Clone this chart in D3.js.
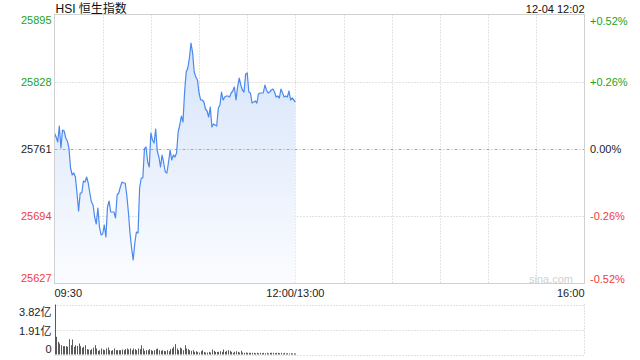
<!DOCTYPE html>
<html>
<head>
<meta charset="utf-8">
<script src="https://cdn.jsdelivr.net/npm/d3@7"></script>
<style>
  body { margin: 0; background: #fff; }
  svg { display: block; font-family: Arial, "Liberation Sans", "Noto Sans CJK SC", sans-serif; }
</style>
</head>
<body>
<div id="chart"></div>
<script>
// HSI intraday, one value per minute from 09:30
const prices = [
  25777, 25773, 25768, 25784, 25762, 25780, 25779, 25772, 25769, 25762,
  25742, 25735, 25737, 25733, 25717, 25699, 25717, 25717, 25729, 25728,
  25733, 25727, 25717, 25708, 25705, 25693, 25686, 25702, 25683, 25675,
  25676, 25685, 25673, 25703, 25709, 25698, 25698, 25698, 25692, 25715,
  25717, 25723, 25728, 25727, 25727, 25715, 25698, 25677, 25662, 25650,
  25667, 25678, 25677, 25722, 25732, 25732, 25761, 25763, 25748, 25743,
  25777, 25770, 25767, 25781, 25759, 25753, 25743, 25755, 25747, 25738,
  25737, 25748, 25760, 25750, 25755, 25753, 25757, 25778, 25785, 25794,
  25788, 25818, 25838, 25842, 25852, 25867, 25857, 25838, 25833, 25830,
  25817, 25810, 25810, 25808, 25801, 25799, 25793, 25803, 25783, 25786,
  25785, 25784, 25802, 25805, 25818, 25810, 25813, 25814, 25814, 25813,
  25817, 25819, 25823, 25810, 25823, 25832, 25825, 25820, 25818, 25836,
  25837, 25818, 25817, 25807, 25808, 25809, 25807, 25816, 25817, 25817,
  25817, 25825, 25820, 25817, 25818, 25820, 25821, 25818, 25813, 25814,
  25812, 25821, 25817, 25813, 25814, 25813, 25819, 25810, 25812, 25810,
  25808
];
// volume per minute, in 亿
const volumes = [
  3.82, 1.35, 0.97, 0.84, 0.71, 0.64, 0.64, 0.64, 0.59, 1.17,
  0.71, 1.15, 0.59, 0.71, 0.66, 0.84, 0.64, 0.51, 0.59, 0.71,
  0.41, 0.38, 0.33, 0.41, 0.53, 0.71, 0.46, 0.28, 0.33, 0.46,
  0.38, 0.33, 0.46, 0.53, 0.33, 0.28, 0.33, 0.46, 0.33, 0.33,
  0.33, 0.33, 0.38, 0.33, 0.41, 0.46, 0.38, 0.46, 0.33, 0.46,
  0.41, 0.33, 0.46, 0.41, 0.71, 0.46, 0.28, 0.33, 0.33, 0.41,
  0.33, 0.28, 0.33, 0.41, 0.46, 0.33, 0.28, 0.33, 0.28, 0.25,
  0.33, 0.25, 0.41, 0.46, 0.59, 0.79, 0.46, 0.33, 0.53, 0.46,
  0.33, 0.71, 0.46, 0.41, 0.33, 0.28, 0.33, 0.20, 0.25, 0.20,
  0.15, 0.25, 0.33, 0.20, 0.15, 0.15, 0.20, 0.15, 0.38, 0.28,
  0.20, 0.20, 0.20, 0.25, 0.20, 0.38, 0.20, 0.28, 0.33, 0.28,
  0.20, 0.13, 0.20, 0.25, 0.20, 0.15, 0.28, 0.15, 0.13, 0.15,
  0.13, 0.13, 0.13, 0.13, 0.13, 0.10, 0.13, 0.10, 0.13, 0.10,
  0.13, 0.10, 0.13, 0.08, 0.13, 0.13, 0.13, 0.10, 0.13, 0.13,
  0.10, 0.13, 0.08, 0.13, 0.08, 0.10, 0.08, 0.10, 0.08, 0.08,
  0.08
];
const prevClose = 25761;
const priceTicks = [25895, 25828, 25761, 25694, 25627];
const pctTicks = ["+0.52%", "+0.26%", "0.00%", "-0.26%", "-0.52%"];
const timeTicks = [0, 150, 330];
const timeLabels = ["09:30", "12:00/13:00", "16:00"];
const volTicks = [3.82, 1.91, 0];
const volLabels = ["3.82亿", "1.91亿", "0"];
const title = "HSI 恒生指数";
const stamp = "12-04 12:02";

const W = 640, H = 360;
const pLeft = 54.5, pRight = 584.5, pTop = 14.5, pBottom = 283.5;
const volTop = 304.5, volBottom = 354.5;
const green = "#1ba31b", red = "#f03c3c", dark = "#222";

const svg = d3.select("#chart").append("svg")
    .attr("width", W).attr("height", H);

const x = d3.scaleLinear().domain([0, 330]).range([pLeft, pRight]);
const y = d3.scaleLinear().domain([25627, 25895]).range([pBottom - 0.5, pTop + 0.5]);
const yv = d3.scaleLinear().domain([0, 3.82]).range([volBottom, volTop]);

function colorFor(v) { return v > prevClose ? green : (v < prevClose ? red : dark); }

// gradient for the area
const defs = svg.append("defs");
const grad = defs.append("linearGradient").attr("id", "area")
    .attr("gradientUnits", "userSpaceOnUse")
    .attr("x1", 0).attr("x2", 0).attr("y1", y(25867)).attr("y2", pBottom);
grad.append("stop").attr("offset", 0).attr("stop-color", "#d6e4fa");
grad.append("stop").attr("offset", 1).attr("stop-color", "#fbfcff");

// vertical grid every 30 minutes
const gridMins = d3.range(30, 330, 30);
svg.append("g").selectAll("line").data(gridMins).enter().append("line")
    .attr("x1", d => Math.round(x(d)) + 0.5).attr("x2", d => Math.round(x(d)) + 0.5)
    .attr("y1", pTop).attr("y2", pBottom)
    .attr("stroke", "#c8c8c8").attr("stroke-dasharray", "1,2");

// horizontal grid
svg.append("g").selectAll("line").data([priceTicks[1], priceTicks[3]]).enter().append("line")
    .attr("x1", pLeft).attr("x2", pRight)
    .attr("y1", d => Math.round(y(d)) + 0.5).attr("y2", d => Math.round(y(d)) + 0.5)
    .attr("stroke", "#c4c4c4").attr("stroke-dasharray", "1,2");

// area + line
const area = d3.area()
    .x((d, i) => x(i)).y0(pBottom).y1(d => y(d));
svg.append("path").datum(prices).attr("d", area).attr("fill", "url(#area)");

svg.append("line")
    .attr("x1", pLeft).attr("x2", pRight)
    .attr("y1", Math.round(y(prevClose)) + 0.5).attr("y2", Math.round(y(prevClose)) + 0.5)
    .attr("stroke", "#aaa").attr("stroke-dasharray", "3,2,1,2");

const line = d3.line().x((d, i) => x(i)).y(d => y(d));
svg.append("path").datum(prices).attr("d", line)
    .attr("fill", "none").attr("stroke", "#4a89ee").attr("stroke-width", 1.2)
    .attr("stroke-linejoin", "round");

// frame
svg.append("rect")
    .attr("x", pLeft).attr("y", pTop).attr("width", pRight - pLeft).attr("height", pBottom - pTop)
    .attr("fill", "none").attr("stroke", "#d0d0d0");

// watermark
svg.append("text").attr("x", 573).attr("y", 283).attr("text-anchor", "end")
    .attr("font-size", 11).attr("fill", "#d2d2d2").text("sina.com");

// left price labels
svg.append("g").selectAll("text").data(priceTicks).enter().append("text")
    .attr("x", 51.5)
    .attr("y", (d, i) => i === 0 ? y(d) + 9 : (i === priceTicks.length - 1 ? y(d) - 1 : y(d) + 4))
    .attr("text-anchor", "end").attr("font-size", 11)
    .attr("fill", d => colorFor(d)).text(d => d);

// right percent labels
svg.append("g").selectAll("text").data(pctTicks).enter().append("text")
    .attr("x", 590)
    .attr("y", (d, i) => i === 0 ? y(priceTicks[i]) + 10 : (i === pctTicks.length - 1 ? y(priceTicks[i]) + 0 : y(priceTicks[i]) + 4))
    .attr("font-size", 11)
    .attr("fill", (d, i) => colorFor(priceTicks[i])).text(d => d);

// time labels
svg.append("g").selectAll("text").data(timeTicks).enter().append("text")
    .attr("x", d => x(d))
    .attr("y", 297)
    .attr("text-anchor", (d, i) => i === 0 ? "start" : (i === timeTicks.length - 1 ? "end" : "middle"))
    .attr("font-size", 11).attr("fill", dark)
    .text((d, i) => timeLabels[i]);

// title + timestamp
svg.append("text").attr("x", 55.5).attr("y", 12.5).attr("font-size", 12)
    .attr("fill", "#111").text(title);
svg.append("text").attr("x", pRight).attr("y", 12.5).attr("text-anchor", "end")
    .attr("font-size", 11).attr("fill", "#111").text(stamp);

// volume panel grid
svg.append("g").selectAll("line").data(volTicks).enter().append("line")
    .attr("x1", pLeft).attr("x2", pRight)
    .attr("y1", d => Math.round(yv(d)) + 0.5).attr("y2", d => Math.round(yv(d)) + 0.5)
    .attr("stroke", "#c4c4c4").attr("stroke-dasharray", "1,2");
svg.append("line").attr("x1", pRight).attr("x2", pRight)
    .attr("y1", volTop).attr("y2", volBottom)
    .attr("stroke", "#c4c4c4").attr("stroke-dasharray", "1,2");

// volume bars
svg.append("g").selectAll("rect").data(volumes).enter().append("rect")
    .attr("x", (d, i) => Math.round(x(i)))
    .attr("y", d => yv(d))
    .attr("width", 1)
    .attr("height", d => volBottom - yv(d))
    .attr("fill", "#5a5a5a");

// volume labels
svg.append("g").selectAll("text").data(volTicks).enter().append("text")
    .attr("x", 51.5)
    .attr("y", (d, i) => i === 0 ? yv(d) + 11 : (i === volTicks.length - 1 ? yv(d) - 2 : yv(d) + 5))
    .attr("text-anchor", "end").attr("font-size", 11).attr("fill", dark)
    .text((d, i) => volLabels[i]);
</script>
</body>
</html>
